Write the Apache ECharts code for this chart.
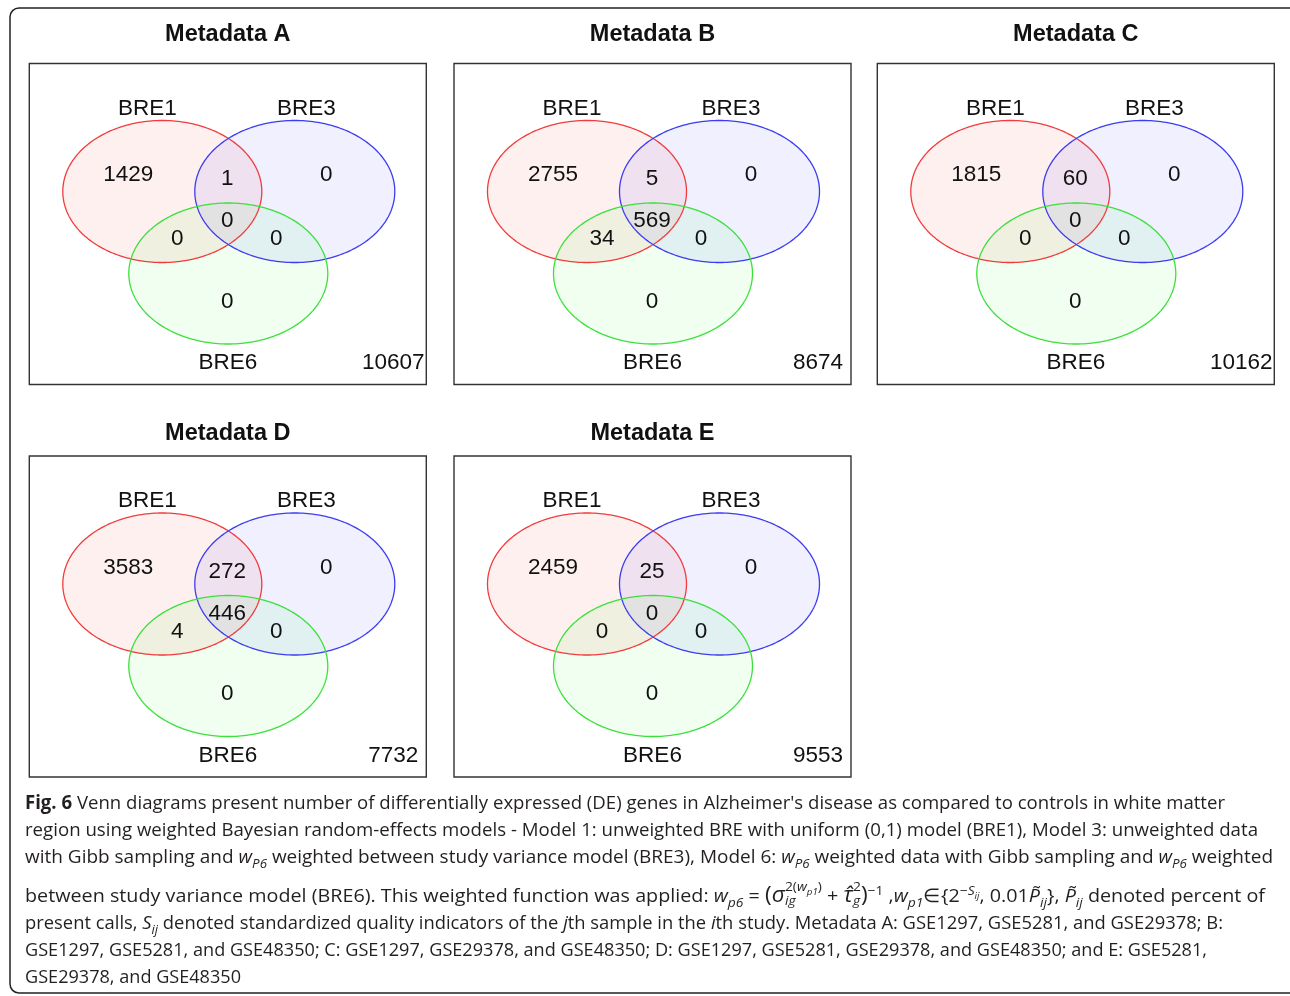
<!DOCTYPE html>
<html>
<head>
<meta charset="utf-8">
<script src="https://cdn.jsdelivr.net/npm/echarts@6/dist/echarts.min.js"></script>
<style>
html,body{margin:0;padding:0;background:#fff;}
#chart{position:absolute;left:0;top:0;width:1290px;height:996px;}
#cap{position:absolute;left:0;top:0;width:1290px;height:996px;pointer-events:none;
  font-family:"Open Sans","Noto Sans",sans-serif;font-size:19px;color:#231f20;}
.ln{position:absolute;left:25px;white-space:nowrap;line-height:27px;transform-origin:0 50%;display:inline-block;}
.ln i{font-style:italic;}
sub,sup{font-size:0.7em;line-height:0;}
.big{font-size:1.15em;}
.ss{display:inline-block;vertical-align:middle;line-height:1.05;font-size:0.7em;text-align:left;position:relative;top:-3px;}
.ss span{display:block;}
</style>
</head>
<body>
<div id="chart"></div>
<div id="cap">
  <div class="ln" data-r="1225" style="top:789px"><b>Fig. 6</b> Venn diagrams present number of differentially expressed (DE) genes in Alzheimer's disease as compared to controls in white matter</div>
  <div class="ln" data-r="1258" style="top:816px">region using weighted Bayesian random-effects models - Model 1: unweighted BRE with uniform (0,1) model (BRE1), Model 3: unweighted data</div>
  <div class="ln" data-r="1273" style="top:843px">with Gibb sampling and <i>w<sub>P6</sub></i> weighted between study variance model (BRE3), Model 6: <i>w<sub>P6</sub></i> weighted data with Gibb sampling and <i>w<sub>P6</sub></i> weighted</div>
  <div class="ln" data-r="1265" style="top:880px">between study variance model (BRE6). This weighted function was applied: <i>w<sub>p6</sub></i> = <span class="big">(</span><i class="big">σ</i><span class="ss"><span>2(<i>w<sub>p1</sub></i>)</span><span><i>ig</i></span></span> + <i class="big">τ̂</i><span class="ss"><span>2</span><span><i>g</i></span></span><span class="big">)</span><sup>−1</sup> ,<i>w<sub>p1</sub></i>∈{2<sup>−<i>S<sub>ij</sub></i></sup>, 0.01<i>P̃<sub>ij</sub></i>}, <i>P̃<sub>ij</sub></i> denoted percent of</div>
  <div class="ln" data-r="1223" style="top:909px">present calls, <i>S<sub>ij</sub></i> denoted standardized quality indicators of the <i>j</i>th sample in the <i>i</i>th study. Metadata A: GSE1297, GSE5281, and GSE29378; B:</div>
  <div class="ln" data-r="1207" style="top:936px">GSE1297, GSE5281, and GSE48350; C: GSE1297, GSE29378, and GSE48350; D: GSE1297, GSE5281, GSE29378, and GSE48350; and E: GSE5281,</div>
  <div class="ln" data-r="241" style="top:963px">GSE29378, and GSE48350</div>
</div>
<script>
// ---------------- data ----------------
const panelTitles = ['Metadata A', 'Metadata B', 'Metadata C', 'Metadata D', 'Metadata E'];
const setNames = ['BRE1', 'BRE3', 'BRE6'];
// region order: BRE1 only, BRE1&BRE3, BRE3 only, all three, BRE1&BRE6, BRE3&BRE6, BRE6 only
const regionNames = ['BRE1 only', 'BRE1∩BRE3', 'BRE3 only', 'BRE1∩BRE3∩BRE6', 'BRE1∩BRE6', 'BRE3∩BRE6', 'BRE6 only'];
const countsA = [1429, 1, 0, 0, 0, 0, 0];
const countsB = [2755, 5, 0, 569, 34, 0, 0];
const countsC = [1815, 60, 0, 0, 0, 0, 0];
const countsD = [3583, 272, 0, 446, 4, 0, 0];
const countsE = [2459, 25, 0, 0, 0, 0, 0];
const outsideCounts = [10607, 8674, 10162, 7732, 9553];
const allCounts = [countsA, countsB, countsC, countsD, countsE];

// ---------------- layout (panel units) ----------------
const PW = 397, PH = 321;
const ellipseLayout = [[133, 128, 99.5, 71], [265.5, 128, 100, 71], [199, 210, 99.5, 70.5]];
const regionPos = [[99, 111.5], [198, 115.5], [297, 111.5], [198, 157.5], [148, 175.5], [247, 175.5], [198, 238]];
const setLabelPos = [[118, 45], [277, 45], [198.5, 299.5]];
const outsidePos = [364, 299.5];
const boxLeft = [29.3, 454, 877.3, 29.3, 454];
const boxTop = [63.5, 63.5, 63.5, 456, 456];
const titleY = [35, 35, 35, 434, 434];
const strokeCols = ['#f03c3c', '#3c3cf0', '#3ce03c'];
const fillCols = ['rgba(255,0,0,0.06)', 'rgba(0,0,255,0.06)', 'rgba(0,255,0,0.06)'];
const FONT = '"Liberation Sans", Arial, sans-serif';

const chart = echarts.init(document.getElementById('chart'), null, {renderer: 'canvas'});

const grids = [], xAxes = [], yAxes = [], series = [], graphics = [];
panelTitles.forEach((t, i) => {
  grids.push({left: boxLeft[i], top: boxTop[i], width: PW, height: PH, show: true,
    borderColor: '#333', borderWidth: 1.4, backgroundColor: 'transparent', containLabel: false});
  xAxes.push({type: 'value', gridIndex: i, min: 0, max: PW, show: false});
  yAxes.push({type: 'value', gridIndex: i, min: 0, max: PH, inverse: true, show: false});

  ['fill', 'stroke'].forEach(pass => {
    series.push({
      type: 'custom', xAxisIndex: i, yAxisIndex: i, silent: true,
      data: ellipseLayout.map((e, k) => [e[0], e[1], e[2], e[3], k]),
      renderItem: (params, api) => {
        const c = api.coord([api.value(0), api.value(1)]);
        const s = api.size([api.value(2), api.value(3)]);
        const k = api.value(4);
        const pts = [];
        for (let a = 0; a < 240; a++) {
          const th = a / 240 * Math.PI * 2;
          pts.push([c[0] + s[0] * Math.cos(th), c[1] + s[1] * Math.sin(th)]);
        }
        return {type: 'polygon', shape: {points: pts},
          style: pass === 'fill' ? {fill: fillCols[k], stroke: null}
                                 : {fill: null, stroke: strokeCols[k], lineWidth: 1.3}};
      }
    });
  });

  const txt = [];
  allCounts[i].forEach((v, r) => txt.push([regionPos[r][0], regionPos[r][1], String(v)]));
  setNames.forEach((n, k) => txt.push([setLabelPos[k][0], setLabelPos[k][1], n]));
  txt.push([outsidePos[0], outsidePos[1], String(outsideCounts[i])]);
  series.push({
    type: 'custom', xAxisIndex: i, yAxisIndex: i, silent: true,
    data: txt,
    renderItem: (params, api) => {
      const c = api.coord([api.value(0), api.value(1)]);
      return {type: 'text', x: c[0], y: c[1],
        style: {text: txt[params.dataIndex][2], font: '22.5px ' + FONT, fill: '#111',
                align: 'center', verticalAlign: 'middle'}};
    }
  });

  graphics.push({type: 'text', x: boxLeft[i] + PW / 2, y: titleY[i],
    style: {text: t, font: 'bold 23.5px ' + FONT, fill: '#111', align: 'center', verticalAlign: 'middle'}});
});
graphics.push({type: 'rect', shape: {x: 10, y: 8, width: 1292, height: 985, r: 9},
  style: {fill: 'none', stroke: '#222', lineWidth: 1.5}, z: -1});

chart.setOption({
  animation: false,
  backgroundColor: '#fff',
  grid: grids, xAxis: xAxes, yAxis: yAxes, series: series, graphic: graphics
});

function fitLines() {
  document.querySelectorAll('.ln').forEach(el => {
    el.style.transform = 'none';
    const w = el.getBoundingClientRect().width;
    const target = parseFloat(el.dataset.r) - 25;
    el.style.transform = 'scaleX(' + (target / w) + ')';
  });
}
if (document.fonts && document.fonts.ready) document.fonts.ready.then(fitLines); else fitLines();
fitLines();
</script>
</body>
</html>
